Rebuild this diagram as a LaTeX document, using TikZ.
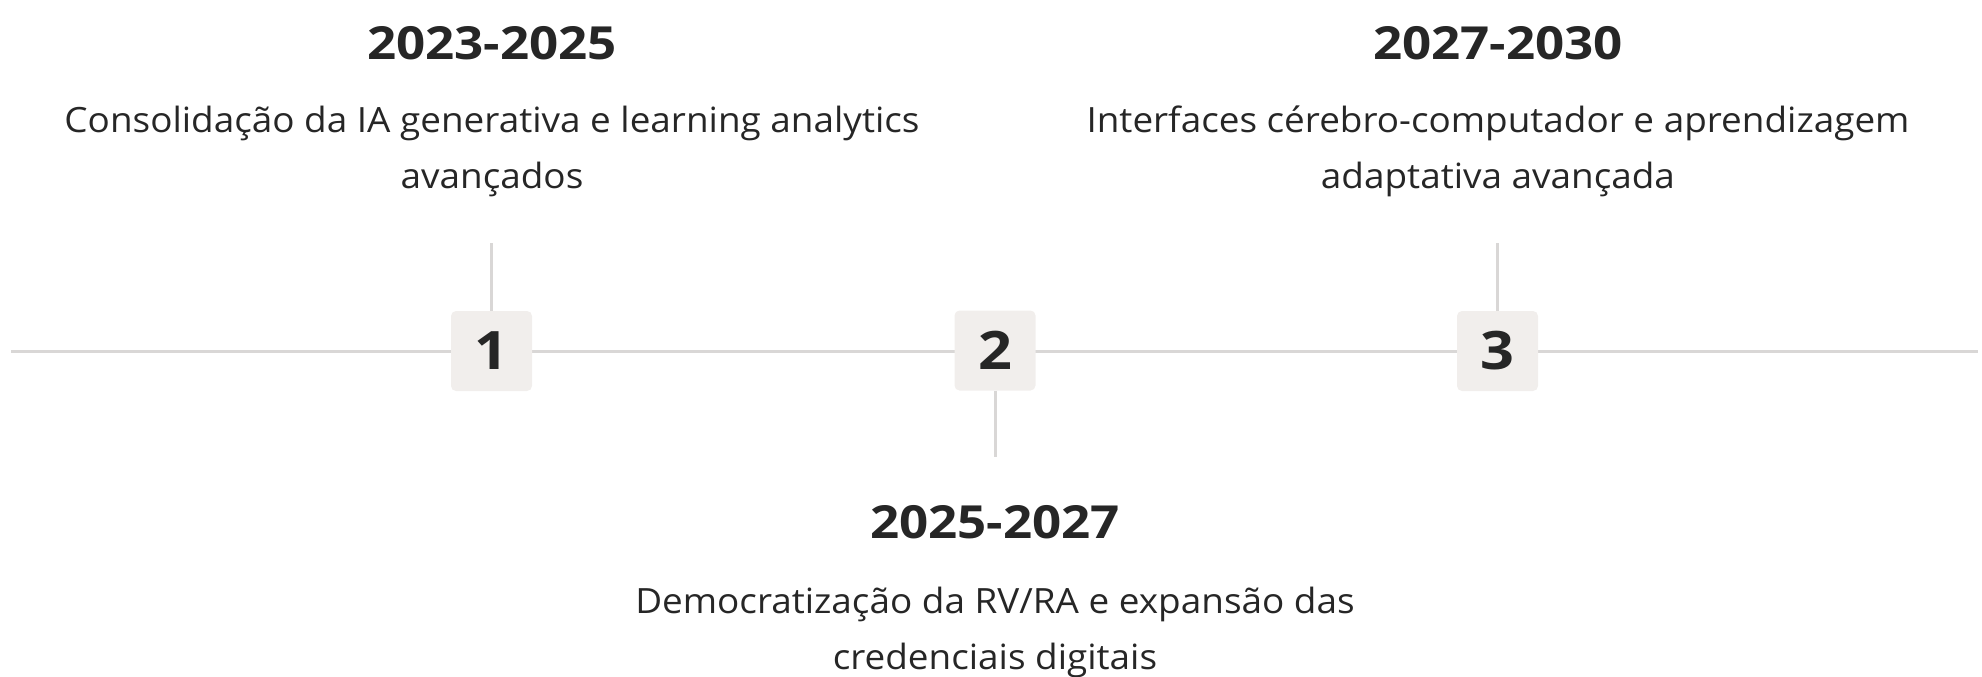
\documentclass[tikz,border=0pt]{standalone}
\usepackage{fontspec}
\setmainfont{Open Sans}
\newfontfamily\descfont[FakeStretch=1.06]{Open Sans}
\newfontfamily\titlefont[FakeStretch=1.12]{Open Sans}
\definecolor{txt}{HTML}{262626}
\definecolor{linec}{HTML}{D9D7D6}
\definecolor{boxc}{HTML}{F1EEEC}
\begin{document}
\begin{tikzpicture}[x=0.5pt,y=-0.5pt,
  tl/.style={draw=linec,line width=1.5pt},
  numbox/.style={fill=boxc,rounded corners=2.5pt,minimum width=40.5pt,minimum height=40pt,inner sep=0pt,text=txt,font=\titlefont\fontsize{26.5}{30}\selectfont\bfseries},
  title/.style={anchor=base,text=txt,inner sep=0pt,font=\titlefont\fontsize{22.8}{26}\selectfont\bfseries},
  desc/.style={anchor=base,text=txt,inner sep=0pt,font=\descfont\fontsize{17.4}{20}\selectfont}]
\useasboundingbox (0,0) rectangle (1982,676);
\coordinate (L) at (11,351);
\coordinate (R) at (1978,351);
\draw[tl] (L) -- (R);
\coordinate (t1) at (491.5,243);
\coordinate (t2) at (995,457);
\coordinate (t3) at (1497.5,243);
\node[numbox] (n1) at (491.5,351) {1};
\node[numbox] (n2) at (995,350.5) {2};
\node[numbox] (n3) at (1497.5,351) {3};
\draw[tl] (n1.north) -- (t1);
\draw[tl] (n2.south) -- (t2);
\draw[tl] (n3.north) -- (t3);
\node[title] (y1) at (492,59) {2023-2025};
\node[desc] (d1a) at (492,132) {Consolidação da IA generativa e learning analytics};
\node[desc] (d1b) at (492,188) {avançados};
\node[title] (y3) at (1498,59) {2027-2030};
\node[desc] (d3a) at (1498,132) {Interfaces cérebro-computador e aprendizagem};
\node[desc] (d3b) at (1498,188) {adaptativa avançada};
\node[title] (y2) at (995,538) {2025-2027};
\node[desc] (d2a) at (995,613) {Democratização da RV/RA e expansão das};
\node[desc] (d2b) at (995,669) {credenciais digitais};
\end{tikzpicture}
\end{document}
